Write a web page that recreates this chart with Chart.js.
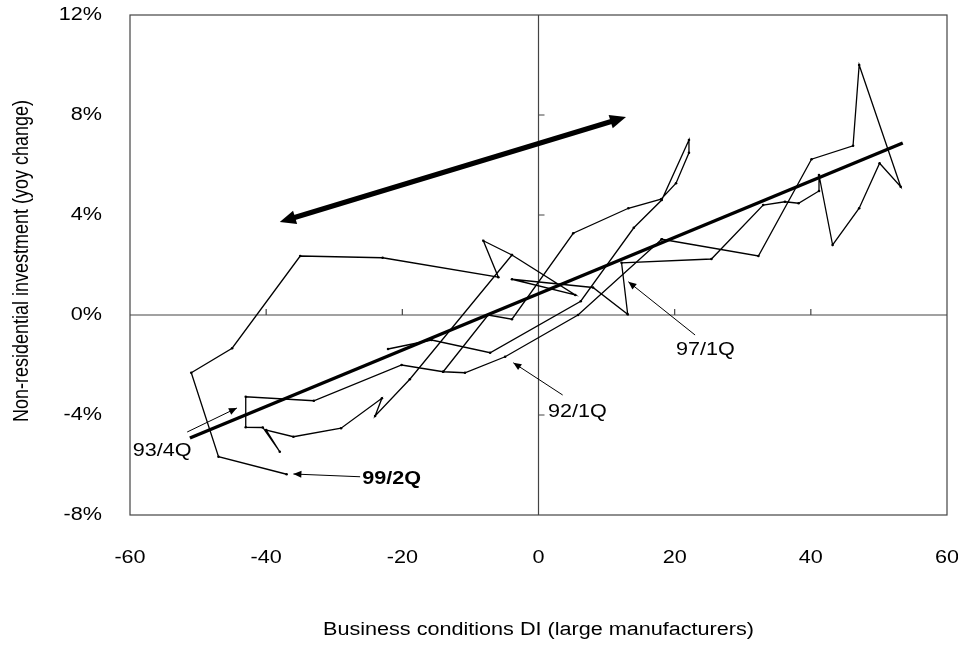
<!DOCTYPE html>
<html>
<head>
<meta charset="utf-8">
<script src="https://cdn.jsdelivr.net/npm/chart.js@4.4.1/dist/chart.umd.min.js"></script>
<style>
  html, body { margin: 0; padding: 0; background: #fff; }
  #wrap { width: 958px; height: 645px; }
</style>
</head>
<body>
<div id="wrap"><canvas id="chart"></canvas></div>
<script>
// Axis ticks
const xTicks = [-60, -40, -20, 0, 20, 40, 60];
const yTicks = [-8, -4, 0, 4, 8, 12];

// Path through the upper right cluster down to 99/2Q (DI, yoy %)
const pathA_di  = [18.1, 32.3, 40.1, 46.2, 47.1, 53.2, 50.1, 47.1, 43.2, 41.2, 41.2, 38.2, 36.2, 33.0, 25.4, 12.2, 13.1, 8.0, -3.9, 5.4, -3.9, -8.1, -5.9, -22.9, -35.0, -45.0, -51.0, -47.0, -37.0];
const pathA_inv = [3.03, 2.36, 6.23, 6.77, 10.0, 5.13, 6.07, 4.27, 2.8, 5.6, 4.96, 4.47, 4.53, 4.4, 2.24, 2.09, 0.03, 1.1, 1.43, 0.8, 2.4, 2.97, 1.51, 2.29, 2.36, -1.33, -2.31, -5.67, -6.37];

// Path through 92/1Q and 93/4Q
const pathB_di  = [18.1, 5.8, -4.9, -10.8, -14.0, -20.1, -33.0, -43.0, -43.0, -40.5, -38.0, -40.0, -36.0, -29.0, -23.0, -24.0, -18.9, -3.9];
const pathB_inv = [3.03, 0.0, -1.67, -2.31, -2.27, -2.0, -3.43, -3.27, -4.49, -4.5, -5.47, -4.6, -4.87, -4.53, -3.33, -4.04, -2.57, 2.4];

// Path starting at the free end near (-22, -1.4)
const pathC_di  = [-22.1, -15.7, -7.1, 6.2, 14.0, 18.1, 22.1, 22.1, 20.2, 18.0, 13.2, 5.1, -3.9, -7.4, -14.0];
const pathC_inv = [-1.36, -1.0, -1.51, 0.55, 3.49, 4.6, 7.0, 6.49, 5.27, 4.63, 4.27, 3.27, -0.17, 0.0, -2.27];

// Fitted line
const fit_di  = [-51.2, 53.5];
const fit_inv = [-4.92, 6.88];

// Labels and their arrows (tail -> head), in data units
const notes = [
  { text: '93/4Q', x: -59.6, y: -5.44, bold: false, from: [-51.6, -4.68], to: [-44.3, -3.72] },
  { text: '99/2Q', x: -25.9, y: -6.56, bold: true,  from: [-26.2, -6.47], to: [-36.0, -6.36] },
  { text: '92/1Q', x: 1.4,   y: -3.88, bold: false, from: [3.55, -3.2],   to: [-3.7, -1.91] },
  { text: '97/1Q', x: 20.2,  y: -1.4,  bold: false, from: [23.0, -0.8],   to: [13.2, 1.33] }
];
const trendArrow = [[-38.0, 3.72], [12.85, 7.92]];

const FONT = '"Liberation Sans", Arial, sans-serif';
const SX = 1.2; // the reference text is slightly wide

function pts(xs, ys) {
  return xs.map((x, i) => ({ x: x, y: ys[i] }));
}

function wideText(ctx, text, x, y, align, font) {
  ctx.save();
  ctx.font = font;
  ctx.fillStyle = '#000';
  ctx.textAlign = align;
  ctx.textBaseline = 'middle';
  ctx.translate(x, y);
  ctx.scale(SX, 1);
  ctx.fillText(text, 0, 0);
  ctx.restore();
}

function arrowHead(ctx, x1, y1, x2, y2, len, half) {
  const a = Math.atan2(y2 - y1, x2 - x1);
  ctx.beginPath();
  ctx.moveTo(x2, y2);
  ctx.lineTo(x2 - len * Math.cos(a) + half * Math.sin(a), y2 - len * Math.sin(a) - half * Math.cos(a));
  ctx.lineTo(x2 - len * Math.cos(a) - half * Math.sin(a), y2 - len * Math.sin(a) + half * Math.cos(a));
  ctx.closePath();
  ctx.fill();
}

const framePlugin = {
  id: 'frame',
  beforeDatasetsDraw(chart) {
    const { ctx, chartArea: a, scales: { x, y } } = chart;
    const x0 = x.getPixelForValue(0);
    const y0 = y.getPixelForValue(0);
    ctx.save();
    ctx.strokeStyle = '#444';
    ctx.lineWidth = 1.2;
    ctx.strokeRect(a.left, a.top, a.right - a.left, a.bottom - a.top);
    ctx.beginPath();
    ctx.moveTo(a.left, y0); ctx.lineTo(a.right, y0);
    ctx.moveTo(x0, a.top); ctx.lineTo(x0, a.bottom);
    xTicks.forEach(v => {
      if (v === 0 || v === xTicks[0] || v === xTicks[xTicks.length - 1]) return;
      const px = x.getPixelForValue(v);
      ctx.moveTo(px, y0); ctx.lineTo(px, y0 - 6);
    });
    yTicks.forEach(v => {
      if (v === 0 || v === yTicks[0] || v === yTicks[yTicks.length - 1]) return;
      const py = y.getPixelForValue(v);
      ctx.moveTo(x0, py); ctx.lineTo(x0 + 6, py);
    });
    ctx.stroke();
    ctx.restore();

    // tick labels and axis titles
    const f = '18px ' + FONT;
    yTicks.forEach(v => wideText(ctx, v + '%', 102, y.getPixelForValue(v), 'right', f));
    xTicks.forEach(v => wideText(ctx, String(v), x.getPixelForValue(v), 558, 'center', f));
    wideText(ctx, 'Business conditions DI (large manufacturers)', x0, 630, 'center', f);

    ctx.save();
    ctx.font = f;
    ctx.fillStyle = '#000';
    ctx.textAlign = 'center';
    ctx.textBaseline = 'middle';
    ctx.translate(22, 261);
    ctx.scale(SX, 1);
    ctx.rotate(-Math.PI / 2);
    ctx.fillText('Non-residential investment (yoy change)', 0, 0);
    ctx.restore();
  },
  afterDatasetsDraw(chart) {
    const { ctx, scales: { x, y } } = chart;
    ctx.save();
    ctx.strokeStyle = '#000';
    ctx.fillStyle = '#000';

    // big two-way arrow
    const ax1 = x.getPixelForValue(trendArrow[0][0]), ay1 = y.getPixelForValue(trendArrow[0][1]);
    const ax2 = x.getPixelForValue(trendArrow[1][0]), ay2 = y.getPixelForValue(trendArrow[1][1]);
    const ang = Math.atan2(ay2 - ay1, ax2 - ax1);
    ctx.lineWidth = 5;
    ctx.beginPath();
    ctx.moveTo(ax1 + 12 * Math.cos(ang), ay1 + 12 * Math.sin(ang));
    ctx.lineTo(ax2 - 12 * Math.cos(ang), ay2 - 12 * Math.sin(ang));
    ctx.stroke();
    arrowHead(ctx, ax1, ay1, ax2, ay2, 16, 7);
    arrowHead(ctx, ax2, ay2, ax1, ay1, 16, 7);

    // labelled points
    ctx.lineWidth = 1;
    notes.forEach(n => {
      const tx = x.getPixelForValue(n.from[0]), ty = y.getPixelForValue(n.from[1]);
      const hx = x.getPixelForValue(n.to[0]), hy = y.getPixelForValue(n.to[1]);
      ctx.beginPath();
      ctx.moveTo(tx, ty); ctx.lineTo(hx, hy);
      ctx.stroke();
      arrowHead(ctx, tx, ty, hx, hy, 8, 3.5);
      wideText(ctx, n.text, x.getPixelForValue(n.x), y.getPixelForValue(n.y), 'left',
        (n.bold ? 'bold ' : '') + '18px ' + FONT);
    });
    ctx.restore();
  }
};

const pathStyle = {
  showLine: true,
  borderColor: '#000',
  borderWidth: 1.3,
  pointRadius: 1.3,
  pointBackgroundColor: '#000',
  pointBorderWidth: 0,
  fill: false,
  tension: 0
};

new Chart(document.getElementById('chart'), {
  type: 'scatter',
  data: {
    datasets: [
      {
        label: 'Fit',
        data: pts(fit_di, fit_inv),
        showLine: true,
        borderColor: '#000',
        borderWidth: 3.5,
        pointRadius: 0,
        fill: false
      },
      Object.assign({ label: 'A', data: pts(pathA_di, pathA_inv) }, pathStyle),
      Object.assign({ label: 'B', data: pts(pathB_di, pathB_inv) }, pathStyle),
      Object.assign({ label: 'C', data: pts(pathC_di, pathC_inv) }, pathStyle)
    ]
  },
  options: {
    responsive: true,
    maintainAspectRatio: false,
    animation: false,
    layout: { padding: { left: 130, top: 15, right: 11, bottom: 130 } },
    plugins: {
      legend: { display: false },
      tooltip: { enabled: false }
    },
    scales: {
      x: { type: 'linear', display: false, min: -60, max: 60 },
      y: { type: 'linear', display: false, min: -8, max: 12 }
    }
  },
  plugins: [framePlugin]
});
</script>
</body>
</html>
